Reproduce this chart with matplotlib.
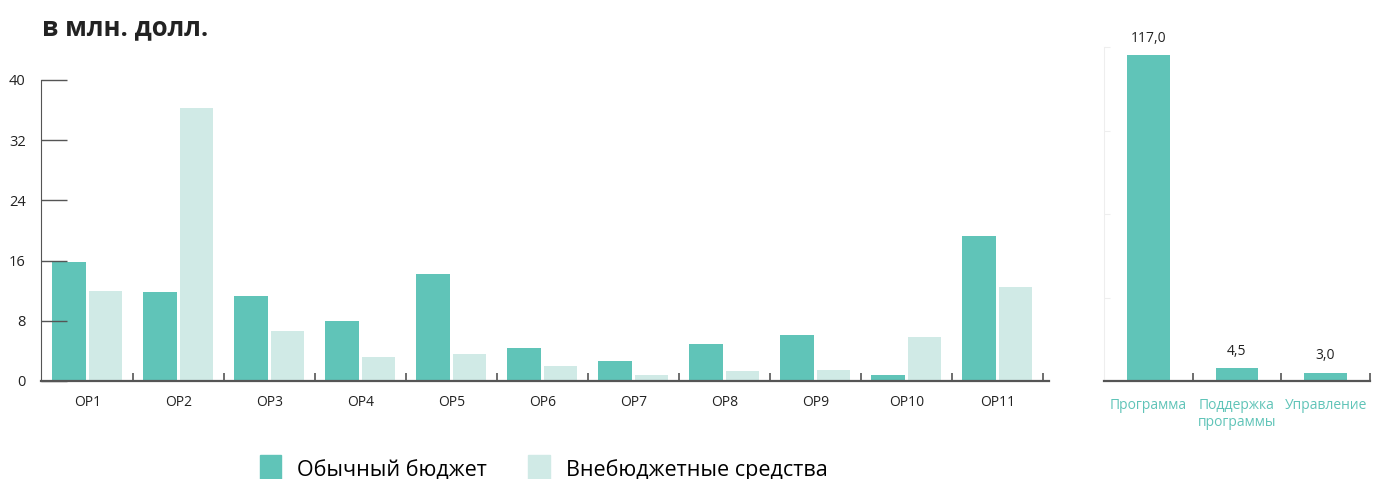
import matplotlib.pyplot as plt
import numpy as np
from matplotlib.patches import Patch

plt.rcParams['font.family'] = ['Open Sans', 'DejaVu Sans']

# данные
cats = ['OP1', 'OP2', 'OP3', 'OP4', 'OP5', 'OP6', 'OP7', 'OP8', 'OP9', 'OP10', 'OP11']
regular = [15.8, 11.8, 11.3, 8.0, 14.2, 4.4, 2.7, 4.9, 6.1, 0.8, 19.3]
extra = [12.0, 36.3, 6.6, 3.2, 3.6, 2.0, 0.8, 1.3, 1.5, 5.8, 12.5]

parts = ['Программа', 'Поддержка\nпрограммы', 'Управление']
part_vals = [117.0, 4.5, 3.0]
part_labels = ['117,0', '4,5', '3,0']

dark = '#60c4b8'
light = '#d0eae6'
axc = '#555555'

fig = plt.figure(figsize=(13.74, 4.79), dpi=100)

# левая диаграмма
ax = fig.add_axes([0.0298, 0.2046, 0.7337, 0.6284])
x = np.arange(len(cats))
ax.bar(x - 0.2, regular, width=0.37, color=dark)
ax.bar(x + 0.2, extra, width=0.37, color=light)
ax.set_xlim(-0.51, 10.57)
ax.set_ylim(0, 40)
ax.set_yticks([0, 8, 16, 24, 32, 40])
ax.tick_params(axis='y', direction='in', length=19, width=1, color=axc,
               labelsize=10.5, pad=11, labelcolor='#222222')
ax.set_xticks(x)
ax.set_xticklabels(cats)
ax.tick_params(axis='x', which='major', length=0, labelsize=10, pad=10,
               labelcolor='#222222')
ax.set_xticks(np.arange(0.5, 11, 1), minor=True)
ax.tick_params(axis='x', which='minor', direction='in', length=6, width=1.2, color=axc)
for s in ['top', 'right']:
    ax.spines[s].set_visible(False)
ax.spines['left'].set_color(axc)
ax.spines['bottom'].set_color(axc)
ax.spines['bottom'].set_linewidth(1.6)

fig.text(0.0305, 0.943, 'в млн. долл.', fontsize=18.5, fontweight='bold',
         color='#222222', va='center', ha='left')

# правая диаграмма
ax2 = fig.add_axes([0.8035, 0.2046, 0.1935, 0.697])
x2 = np.arange(len(parts))
bars = ax2.bar(x2, part_vals, width=0.48, color=dark)
ax2.set_xlim(-0.5, 2.5)
ax2.set_ylim(0, 120)
ax2.set_yticks([0, 30, 60, 90, 120])
ax2.set_yticklabels([])
ax2.tick_params(axis='y', direction='in', length=4, color='#eeeeee')
ax2.set_xticks(x2)
ax2.set_xticklabels(parts)
ax2.tick_params(axis='x', which='major', length=0, labelsize=10, pad=12,
                labelcolor=dark)
ax2.set_xticks([0.5, 1.5, 2.5], minor=True)
ax2.tick_params(axis='x', which='minor', direction='in', length=6, width=1.2, color=axc)
for s in ['top', 'right']:
    ax2.spines[s].set_visible(False)
ax2.spines['left'].set_color('#eeeeee')
ax2.spines['bottom'].set_color(axc)
ax2.spines['bottom'].set_linewidth(1.6)
for b, lab in zip(bars, part_labels):
    ax2.annotate(lab, (b.get_x() + b.get_width() / 2, b.get_height()),
                 xytext=(0, 7), textcoords='offset points', ha='center',
                 va='bottom', fontsize=10, color='#222222')

handles = [Patch(color=dark, label='Обычный бюджет'),
           Patch(color=light, label='Внебюджетные средства')]
fig.legend(handles=handles, loc='center left', bbox_to_anchor=(0.175, 0.02),
           ncol=2, frameon=False, fontsize=15.5, handlelength=1.0, handleheight=1.7,
           handletextpad=0.75, columnspacing=1.9)

fig.savefig('out.png', dpi=100)
